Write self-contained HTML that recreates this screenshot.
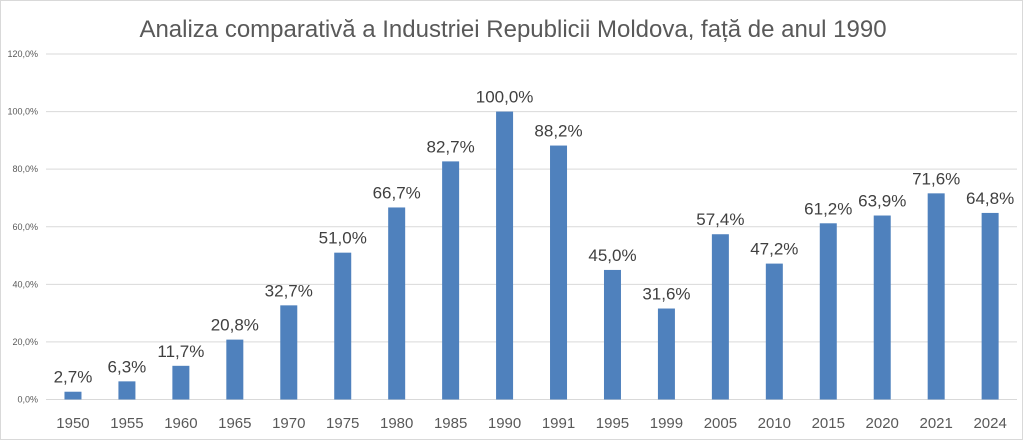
<!DOCTYPE html>
<html><head><meta charset="utf-8"><style>
body{margin:0;background:#fff}
svg{display:block;font-family:"Liberation Sans",Arial,sans-serif}
</style></head><body>
<svg width="1023" height="440" viewBox="0 0 1023 440">
<rect x="0.5" y="0.5" width="1022" height="439" fill="#fff" stroke="#d9d9d9"/>
<text x="513" y="37" text-anchor="middle" font-size="24" fill="#595959">Analiza comparativă a Industriei Republicii Moldova, față de anul 1990</text>
<g id="g"></g>
</svg>
<script>
const vals=[2.7,6.3,11.7,20.8,32.7,51.0,66.7,82.7,100.0,88.2,45.0,31.6,57.4,47.2,61.2,63.9,71.6,64.8];
const yrs=[1950,1955,1960,1965,1970,1975,1980,1985,1990,1991,1995,1999,2005,2010,2015,2020,2021,2024];
const y0=399.5,k=(399.5-54)/120,x0=46,step=53.95;
let s='';
for(let i=0;i<=6;i++){const y=y0-i*20*k;
s+=`<line x1="${x0}" x2="1017" y1="${y}" y2="${y}" stroke="#d9d9d9" stroke-width="1"/>`;
s+=`<text x="38" y="${y+3}" text-anchor="end" font-size="9" fill="#595959">${(i*20).toFixed(1).replace('.',',')}%</text>`;}
vals.forEach((v,i)=>{const c=x0+step*(i+0.5),h=v*k;
s+=`<rect x="${c-8.5}" y="${y0-h}" width="17" height="${h}" fill="#4f81bd"/>`;
s+=`<text x="${c}" y="${y0-h-9}" text-anchor="middle" font-size="17" fill="#404040">${v.toFixed(1).replace('.',',')}%</text>`;
s+=`<text x="${c}" y="428" text-anchor="middle" font-size="15" fill="#595959">${yrs[i]}</text>`;});
document.getElementById('g').innerHTML=s;
</script>
</body></html>
